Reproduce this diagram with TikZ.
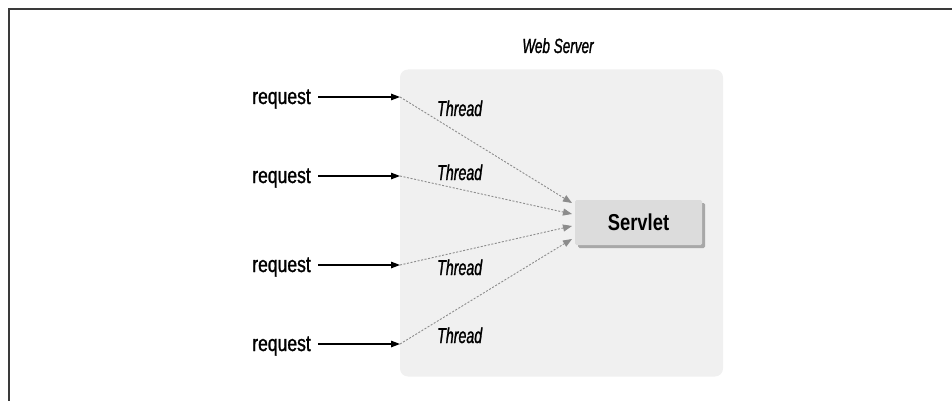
\documentclass[tikz,border=0pt]{standalone}
\usepackage{fontspec}
\setmainfont{Liberation Sans}
\newfontfamily\reqfont{Liberation Sans}[FakeStretch=0.78, FakeBold=1.2]
\newfontfamily\thrfont{Liberation Sans}[FakeStretch=0.66, FakeBold=1.2]
\newfontfamily\srvfont{Liberation Sans}[FakeStretch=0.8]
\usetikzlibrary{arrows.meta}
\definecolor{srvbg}{HTML}{F0F0F0}
\definecolor{servletbg}{HTML}{DCDCDC}
\definecolor{shadowc}{HTML}{A8A8A8}
\definecolor{dashc}{HTML}{8C8C8C}
\definecolor{framec}{HTML}{3A3A3A}
\tikzset{
  reqlabel/.style={anchor=base east, inner sep=0pt, font=\reqfont\fontsize{22.5}{24}\selectfont},
  thrlabel/.style={anchor=base west, inner sep=0pt, font=\thrfont\itshape\fontsize{21.5}{23}\selectfont},
  reqarrow/.style={line width=1.3pt, -{Triangle[length=9pt,width=6.5pt]}},
  threadline/.style={dashc, line width=0.9pt, dash pattern=on 2pt off 1.6pt, -{Triangle[length=9pt,width=7pt]}},
  servletbox/.style={fill=servletbg, rounded corners=1.5pt, minimum width=127pt, minimum height=45pt, inner sep=0pt, font=\srvfont\bfseries\fontsize{23}{25}\selectfont}
}
\begin{document}
\begin{tikzpicture}[x=1pt,y=-1pt]
\useasboundingbox (0,0) rectangle (952,401);
% frame
\draw[framec, line width=2pt] (8.5,401) -- (8.5,9) -- (952,9);
% web server
\node[fill=srvbg, rounded corners=8pt, minimum width=323pt, minimum height=307pt, inner sep=0pt] (ws) at (561.5,223) {};
\node[anchor=base, inner sep=0pt, font=\thrfont\itshape\fontsize{20.5}{22}\selectfont] (wslabel) at (558,53) {Web Server};
% servlet
\fill[shadowc, rounded corners=1.5pt] (578,203) rectangle (705,248);
\node[servletbox] (servlet) at (638.5,222.5) {Servlet};
% coordinates
\coordinate (t1) at (572,203);
\coordinate (t2) at (572,214);
\coordinate (t3) at (572,226);
\coordinate (t4) at (572,239);
\foreach \i/\y in {1/97,2/176,3/265,4/344}{
  \node[reqlabel] (r\i) at (311,\y+7) {request};
  \coordinate (s\i) at (318,\y);
  \coordinate (e\i) at (400,\y);
  \draw[reqarrow] (s\i) -- (e\i);
  \draw[threadline] (e\i) -- (t\i);
}
\node[thrlabel] (th1) at (437,116) {Thread};
\node[thrlabel] (th2) at (437,180) {Thread};
\node[thrlabel] (th3) at (437,275) {Thread};
\node[thrlabel] (th4) at (437,343) {Thread};
\end{tikzpicture}
\end{document}
